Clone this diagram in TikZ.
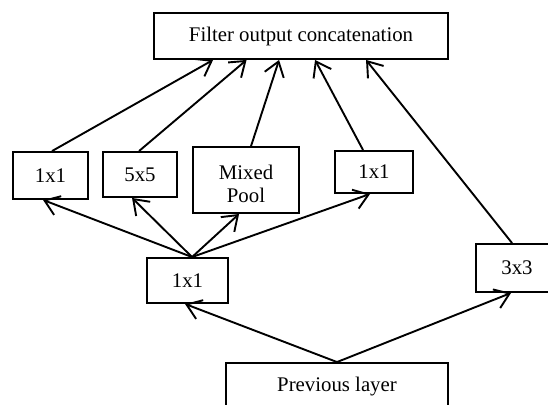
\documentclass[tikz,border=0pt]{standalone}
\usepackage{fontspec}
\setmainfont{Liberation Serif}
\usetikzlibrary{arrows.meta,calc}
\tikzset{
  boxfont/.style={font=\fontsize{20.8}{23}\selectfont},
  box/.style={draw, line width=1.9pt, inner sep=0pt, boxfont, align=center},
  link/.style={line width=1.9pt, -{Straight Barb[length=14pt,width=20pt,line width=1.9pt]}},
}
\begin{document}
\begin{tikzpicture}[x=1pt,y=-1pt]
\useasboundingbox (0,0) rectangle (548,404);
% boxes
\node[box, minimum width=294pt, minimum height=46pt] (filter) at (301,36) {Filter output concatenation};
\node[box, minimum width=75pt, minimum height=47pt] (l1) at (50.5,175.5) {1x1};
\node[box, minimum width=74pt, minimum height=45pt] (f5) at (140,174.5) {5x5};
\node[box, minimum width=106pt, minimum height=66pt,
      label={[boxfont, align=center, inner sep=0pt, yshift=-4pt]center:Mixed\\Pool}] (mp) at (246,180) {};
\node[box, minimum width=78pt, minimum height=42pt] (r1) at (374,172) {1x1};
\node[box, minimum width=81pt, minimum height=45pt] (m1) at (187.5,280.5) {1x1};
\node[box, minimum width=82pt, minimum height=48pt] (t3) at (517,268) {3x3};
\node[box, minimum width=222pt, minimum height=47pt] (prev) at (337,386.5) {Previous layer};
% into the concatenation
\draw[link] ($(l1.north west)+(40,0)$) -- ($(filter.south west)+(60,0)$);
\draw[link] ($(f5.north west)+(37,0)$) -- ($(filter.south west)+(93.5,0)$);
\draw[link] ($(mp.north west)+(59,0)$) -- ($(filter.south west)+(126,0)$);
\draw[link] ($(r1.north west)+(29,0)$) -- ($(filter.south west)+(162,0)$);
\draw[link] ($(t3.north west)+(37,0)$) -- ($(filter.south west)+(213,0)$);
% out of the middle 1x1
\coordinate (m1top) at ($(m1.north west)+(46,0)$);
\draw[link] (m1top) -- ($(l1.south west)+(31,0)$);
\draw[link] (m1top) -- ($(f5.south west)+(30,0)$);
\draw[link] (m1top) -- ($(mp.south west)+(47,0)$);
\draw[link] (m1top) -- ($(r1.south west)+(36,0)$);
% out of the previous layer
\coordinate (prevtop) at (prev.north);
\draw[link] (prevtop) -- ($(m1.south west)+(39,0)$);
\draw[link] (prevtop) -- ($(t3.south west)+(36,0)$);
\end{tikzpicture}
\end{document}
